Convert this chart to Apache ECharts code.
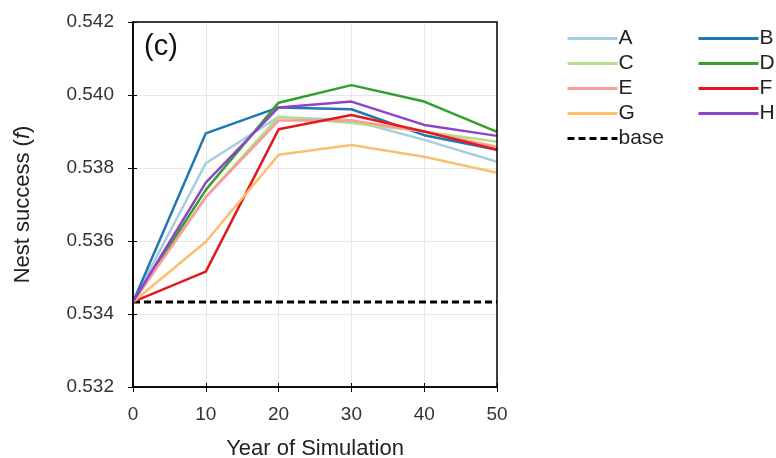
<!DOCTYPE html>
<html><head><meta charset="utf-8">
<script src="https://cdn.jsdelivr.net/npm/echarts@6/dist/echarts.min.js"></script>
<style>html,body{margin:0;padding:0;background:#fff}#c{width:776px;height:458px}</style>
</head><body><div id="c"></div>
<script>
var years = [0, 10, 20, 30, 40, 50];
var yTicks = [0.532, 0.534, 0.536, 0.538, 0.540, 0.542];
var A = [0.53433, 0.53813, 0.53940, 0.53931, 0.53877, 0.53817];
var B = [0.53433, 0.53895, 0.53966, 0.53961, 0.53890, 0.53850];
var C = [0.53433, 0.53721, 0.53940, 0.53923, 0.53900, 0.53872];
var D = [0.53433, 0.53740, 0.53979, 0.54027, 0.53982, 0.53899];
var E = [0.53433, 0.53720, 0.53930, 0.53930, 0.53900, 0.53858];
var F = [0.53433, 0.53516, 0.53906, 0.53945, 0.53900, 0.53850];
var G = [0.53433, 0.53598, 0.53836, 0.53863, 0.53831, 0.53787];
var H = [0.53433, 0.53760, 0.53966, 0.53982, 0.53918, 0.53888];
var base = [0.53433, 0.53433, 0.53433, 0.53433, 0.53433, 0.53433];
var names = ['A','B','C','D','E','F','G','H'];
var colors = {A:'#a6cee3',B:'#1f78b4',C:'#b2df8a',D:'#33a02c',E:'#fb9a99',F:'#e31a1c',G:'#fdbf6f',H:'#8e44c8'};
var dataMap = {A:A,B:B,C:C,D:D,E:E,F:F,G:G,H:H};

var series = names.map(function(n){
  return {name:n, type:'line', symbol:'none', color:colors[n],
    itemStyle:{opacity:0},
    lineStyle:{width:2.5, color:colors[n]},
    data: years.map(function(x,i){return [x, dataMap[n][i]];})};
});
series.push({name:'base', type:'line', symbol:'none', color:'#000',
  itemStyle:{opacity:0},
  lineStyle:{width:3, color:'#000', type:[7,4]},
  data: years.map(function(x,i){return [x, base[i]];}), z:1});

var font = 'Liberation Sans, Arial, sans-serif';
var legendText = {fontSize:21, lineHeight:21, color:'#222', fontFamily:font, padding:[0,0,0,-4]};
var chart = echarts.init(document.getElementById('c'));
chart.setOption({
  animation:false,
  textStyle:{fontFamily:font},
  grid:{left:133, right:279, top:22, bottom:71, containLabel:false, outerBoundsMode:'none'},
  xAxis:[{type:'value', min:0, max:50, interval:10,
    name:'Year of Simulation', nameLocation:'middle', nameGap:51,
    nameTextStyle:{fontSize:22, color:'#222', fontFamily:font},
    axisLine:{show:true, lineStyle:{color:'#000', width:1.5}},
    axisTick:{show:true, inside:false, length:5, lineStyle:{color:'#000'}},
    axisLabel:{fontSize:19, color:'#333', margin:18, fontFamily:font},
    splitLine:{show:true, lineStyle:{color:'#e8e8e8'}}},
   {type:'value', min:0, max:50, interval:10, position:'bottom',
    axisLine:{show:false}, axisLabel:{show:false}, splitLine:{show:false},
    axisTick:{show:true, inside:true, length:4, lineStyle:{color:'#000'}}}],
  yAxis:[{type:'value', min:0.532, max:0.542, interval:0.002,
    name:'{n|Nest success (}{i|f}{n|)}', nameLocation:'middle', nameGap:99, nameRotate:90,
    nameTextStyle:{rich:{n:{fontSize:22,color:'#222',fontFamily:font},i:{fontSize:22,color:'#222',fontStyle:'italic',fontFamily:font}}},
    axisLine:{show:true, lineStyle:{color:'#000', width:1.5}},
    axisTick:{show:true, inside:false, length:5, lineStyle:{color:'#000'}},
    axisLabel:{fontSize:19, color:'#333', margin:19, fontFamily:font,
      formatter:function(v){return v.toFixed(3);}},
    splitLine:{show:true, lineStyle:{color:'#e8e8e8'}}},
   {type:'value', min:0.532, max:0.542, interval:0.002, position:'left',
    axisLine:{show:false}, axisLabel:{show:false}, splitLine:{show:false},
    axisTick:{show:true, inside:true, length:4, lineStyle:{color:'#000'}}}],
  graphic:[
    {type:'rect', shape:{x:133,y:22,width:364,height:365}, style:{fill:'none', stroke:'#000', lineWidth:1.5}, silent:true, z:100},
    {type:'text', left:144, top:32, style:{text:'(c)', fontSize:29, fill:'#111', fontFamily:font}}
  ],
  legend:[
    {data:['A','C','E','G','base'], orient:'vertical', left:561, top:23, itemWidth:50, itemHeight:14, itemGap:4,
      itemStyle:{opacity:0}, lineStyle:{width:3}, textStyle:legendText},
    {data:['B','D','F','H'], orient:'vertical', left:692, top:23, itemWidth:60, itemHeight:14, itemGap:4,
      itemStyle:{opacity:0}, lineStyle:{width:3}, textStyle:legendText}
  ],
  series:series
});
</script></body></html>
